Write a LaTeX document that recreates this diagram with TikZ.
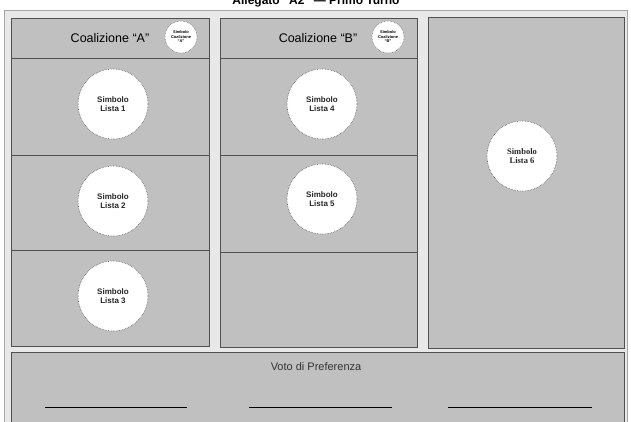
\documentclass[tikz,border=0pt]{standalone}
\usepackage{fontspec}
\setmainfont{Liberation Sans}
\newfontfamily\serifsym{Liberation Serif}
\usepackage{xcolor}
\definecolor{schedabg}{HTML}{E8E8E8}
\definecolor{boxgray}{HTML}{C0C0C0}
\definecolor{rimgray}{HTML}{505050}

\begin{document}
\begin{tikzpicture}[x=1pt,y=-1pt]
				\tikzstyle{colbox} = [fill=boxgray,draw=rimgray,line width=0.8pt]
				\tikzstyle{simbolo} = [circle,fill=white,draw=rimgray,densely dotted,line width=0.6pt,align=center,font=\fontsize{8}{9}\selectfont\bfseries,text=black!85]
				\tikzstyle{coalsym} = [circle,fill=white,draw=rimgray,densely dotted,line width=0.5pt,align=center,inner sep=0pt,font=\fontsize{4}{4.5}\selectfont\bfseries]
				\tikzstyle{rowsep} = [draw=rimgray,line width=0.8pt]
				\useasboundingbox (0,0) rectangle (631,421);
				\fill[white] (0,0) rectangle (631,421);
				% title, cut by the page edge
				\node[anchor=base,font=\fontsize{12}{14}\selectfont\bfseries] (titolo) at (316,4) {Allegato “A2” — Primo Turno};
				\draw[fill=schedabg,draw=gray!70] (4,10) rectangle (627,430);
				% columns
				\draw[colbox] (11,18) rectangle (209,346);
				\draw[colbox] (220,18) rectangle (417,347);
				\draw[colbox] (428,17) rectangle (624,348);
				\draw[rowsep] (11,58) -- (209,58);
				\draw[rowsep] (11,155) -- (209,155);
				\draw[rowsep] (11,250) -- (209,250);
				\draw[rowsep] (220,58) -- (417,58);
				\draw[rowsep] (220,155) -- (417,155);
				\draw[rowsep] (220,252) -- (417,252);
				% headers
				\node[font=\fontsize{12.5}{14}\selectfont] (coalA) at (110,38) {Coalizione “A”};
				\node[font=\fontsize{12.5}{14}\selectfont] (coalB) at (318,38) {Coalizione “B”};
				\node[coalsym,minimum size=32pt] (simA) at (181,37) {Simbolo\\Coalizione\\“A”};
				\node[coalsym,minimum size=32pt] (simB) at (388,37) {Simbolo\\Coalizione\\“B”};
				% list symbols
				\node[simbolo,minimum size=70pt] (lista1) at (113,104) {Simbolo\\Lista 1};
				\node[simbolo,minimum size=70pt] (lista2) at (113,201) {Simbolo\\Lista 2};
				\node[simbolo,minimum size=70pt] (lista3) at (113,296) {Simbolo\\Lista 3};
				\node[simbolo,minimum size=70pt] (lista4) at (322,104) {Simbolo\\Lista 4};
				\node[simbolo,minimum size=70pt] (lista5) at (322,199) {Simbolo\\Lista 5};
				\node[simbolo,minimum size=70pt,font=\serifsym\fontsize{8.5}{9.5}\selectfont\bfseries] (lista6) at (522,156) {Simbolo\\Lista 6};
				% preference
				\draw[colbox] (11,352) rectangle (624,430);
				\node[font=\fontsize{11}{13}\selectfont,text=black!80] (voto) at (316,367) {Voto di Preferenza};
				\draw[line width=0.8pt] (45,407) -- (187,407);
				\draw[line width=0.8pt] (249,407) -- (392,407);
				\draw[line width=0.8pt] (448,407) -- (592,407);
				\end{tikzpicture}
\end{document}
